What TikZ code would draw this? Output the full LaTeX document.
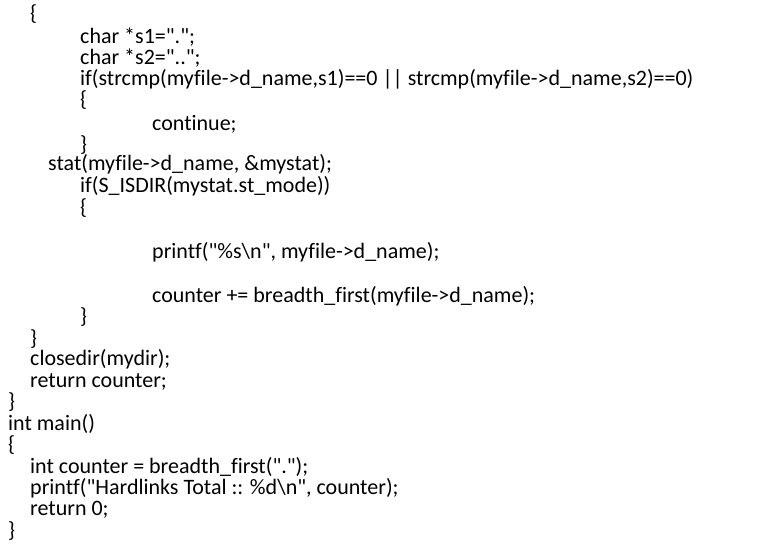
\documentclass[tikz,border=0pt]{standalone}
\usepackage{fontspec}
\setmainfont{Carlito}[Ligatures={TeXOff,NoCommon}]
\begin{document}
\begin{tikzpicture}[x=1pt,y=-1pt,code/.style={anchor=base west,inner sep=0pt,font=\fontsize{22}{24}\selectfont}]
\useasboundingbox[fill=white] (0,0) rectangle (781,556);
\node[code] (l1) at (30,21) {\{};
\node[code] (l2) at (80,44) {char *s1=".";};
\node[code] (l3) at (80,65) {char *s2="..";};
\node[code] (l4) at (80,86) {if(strcmp(myfile->d\_name,s1)==0 || strcmp(myfile->d\_name,s2)==0)};
\node[code] (l5) at (80,107) {\{};
\node[code] (l6) at (152,131) {continue;};
\node[code] (l7) at (80,152) {\}};
\node[code] (l8) at (48,171) {stat(myfile->d\_name, \&mystat);};
\node[code] (l9) at (80,193) {if(S\_ISDIR(mystat.st\_mode))};
\node[code] (l10) at (80,214) {\{};
\node[code] (l11) at (152,258) {printf("\%s\textbackslash n", myfile->d\_name);};
\node[code] (l12) at (152,302) {counter += breadth\_first(myfile->d\_name);};
\node[code] (l13) at (80,323) {\}};
\node[code] (l14) at (30,345) {\}};
\node[code] (l15) at (30,365) {closedir(mydir);};
\node[code] (l16) at (30,387) {return counter;};
\node[code] (l17) at (8,408) {\}};
\node[code] (l18) at (8,430) {int main()};
\node[code] (l19) at (8,451) {\{};
\node[code] (l20) at (30,473) {int counter = breadth\_first(".");};
\node[code] (l21) at (30,494) {printf("Hardlinks Total :: \%d\textbackslash n", counter);};
\node[code] (l22) at (30,515) {return 0;};
\node[code] (l23) at (8,537) {\}};
\end{tikzpicture}
\end{document}
